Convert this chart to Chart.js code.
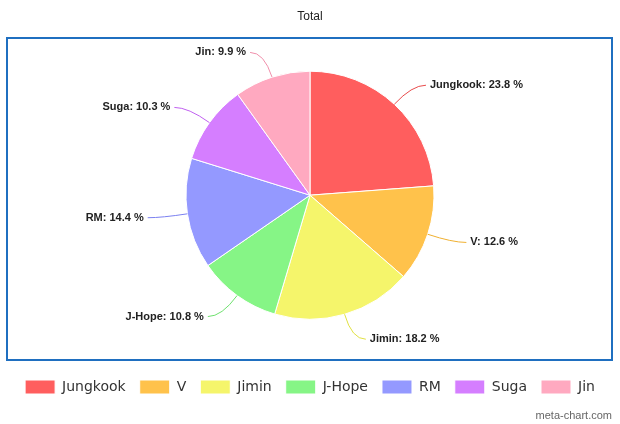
<!DOCTYPE html>
<html>
<head>
<script src="https://cdn.jsdelivr.net/npm/chart.js@4"></script>
<style>
body { margin: 0; background: #fff; }
#wrap { width: 620px; height: 424px; position: relative; }
</style>
</head>
<body>
<div id="wrap"><canvas id="pieCanvas" width="620" height="424"></canvas></div>
<script>
const members = ['Jungkook', 'V', 'Jimin', 'J-Hope', 'RM', 'Suga', 'Jin'];
const shares = [23.8, 12.6, 18.2, 10.8, 14.4, 10.3, 9.9];
const colors = ['#ff5e5e', '#ffc24b', '#f5f56b', '#86f586', '#9499ff', '#d57eff', '#ffa9c0'];
const lineColors = ['#e84c4c', '#f0b030', '#e0e040', '#6ee06e', '#7b80f0', '#c060f0', '#f08fab'];

// blue frame + watermark
const framePlugin = {
    id: 'frame',
    afterDraw(chart) {
        const c = chart.ctx;
        c.save();
        c.strokeStyle = '#1f6fc0';
        c.lineWidth = 2;
        c.strokeRect(7, 38, 605, 322);
        c.fillStyle = '#666';
        c.font = '11px "Liberation Sans", Arial';
        c.textAlign = 'right';
        c.fillText('meta-chart.com', 612, 416);
        c.restore();
    }
};

// outside labels with leader lines
const labelPlugin = {
    id: 'sliceLabels',
    afterDatasetsDraw(chart) {
        const c = chart.ctx;
        const arcs = chart.getDatasetMeta(0).data;
        c.save();
        c.font = 'bold 11px "Liberation Sans", Arial';
        c.textBaseline = 'middle';
        arcs.forEach((arc, i) => {
            const mid = (arc.startAngle + arc.endAngle) / 2;
            const r = arc.outerRadius;
            const x0 = arc.x + Math.cos(mid) * r, y0 = arc.y + Math.sin(mid) * r;
            const x1 = arc.x + Math.cos(mid) * (r + 26), y1 = arc.y + Math.sin(mid) * (r + 26);
            const right = Math.cos(mid) >= 0;
            const x2 = x1 + (right ? 14 : -14);
            c.strokeStyle = lineColors[i];
            c.lineWidth = 1;
            c.beginPath();
            c.moveTo(x0, y0);
            c.quadraticCurveTo(x1, y1, x2, y1);
            c.stroke();
            c.fillStyle = '#222';
            c.textAlign = right ? 'left' : 'right';
            c.fillText(members[i] + ': ' + shares[i] + ' %', x2 + (right ? 4 : -4), y1);
        });
        c.restore();
    }
};

new Chart(document.getElementById('pieCanvas'), {
    type: 'pie',
    data: {
        labels: members,
        datasets: [{
            data: shares,
            backgroundColor: colors,
            borderColor: '#fff',
            borderWidth: 1,
            radius: 124
        }]
    },
    options: {
        responsive: false,
        animation: false,
        layout: { padding: { top: 0, bottom: 20 } },
        plugins: {
            title: {
                display: true, text: 'Total', color: '#222',
                font: { size: 12, weight: 'normal', family: '"Liberation Sans", Arial' },
                padding: { top: 9, bottom: 1 }
            },
            legend: {
                position: 'bottom',
                labels: {
                    boxWidth: 30, boxHeight: 14, padding: 14, color: '#333',
                    font: { size: 14, family: '"DejaVu Sans", Verdana' }
                }
            },
            tooltip: { enabled: false }
        }
    },
    plugins: [framePlugin, labelPlugin]
});
</script>
</body>
</html>
